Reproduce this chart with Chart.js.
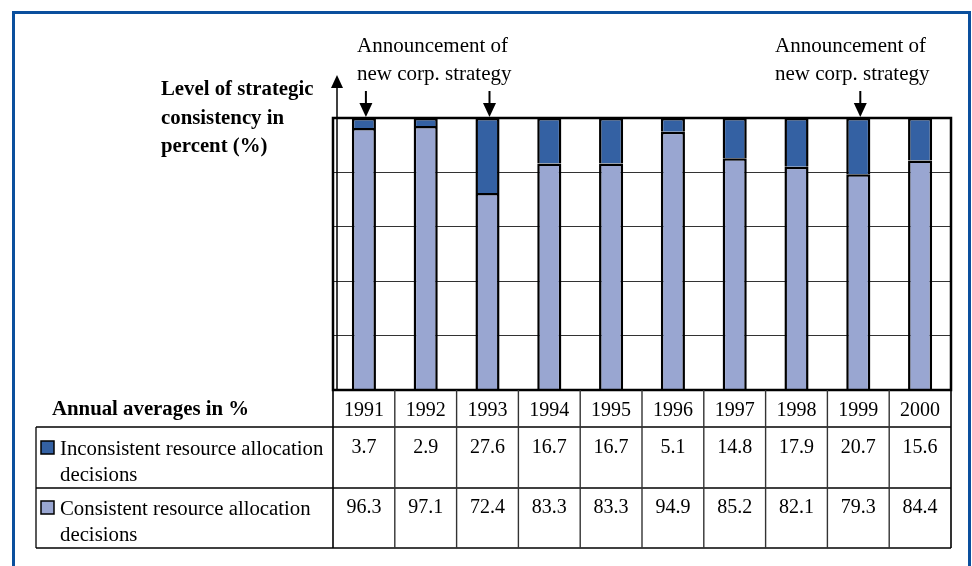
<!DOCTYPE html>
<html lang="en">
<head>
  <meta charset="UTF-8">
  <title>Strategic consistency 1991-2000</title>
  <script src="https://cdn.jsdelivr.net/npm/chart.js"></script>
  <style>
    body {
      margin: 0;
      background: #ffffff;
    }
    canvas {
      display: block;
    }
  </style>
</head>
<body>
  <canvas id="myChart" width="972" height="566"></canvas>

  <script>
    // Data
    const years = ['1991', '1992', '1993', '1994', '1995', '1996', '1997', '1998', '1999', '2000'];
    const inconsistent = [3.7, 2.9, 27.6, 16.7, 16.7, 5.1, 14.8, 17.9, 20.7, 15.6];
    const consistent = [96.3, 97.1, 72.4, 83.3, 83.3, 94.9, 85.2, 82.1, 79.3, 84.4];
    const inconsistentLabel = ['Inconsistent resource allocation', 'decisions'];
    const consistentLabel = ['Consistent resource allocation', 'decisions'];
    const yTitle = ['Level of strategic', 'consistency in', 'percent (%)'];
    const tableTitle = 'Annual averages in %';
    const announcement = ['Announcement of', 'new corp. strategy'];
    const announcementYears = ['1991', '1993', '1999'];

    const darkBlue = '#3461a3';
    const lightBlue = '#99a6d1';
    const serif = "'Liberation Serif', 'Times New Roman', serif";

    function drawText(ctx, str, x, y, font, align) {
      ctx.font = font;
      ctx.textAlign = align || 'left';
      ctx.textBaseline = 'alphabetic';
      ctx.fillStyle = '#000';
      ctx.fillText(str, x, y);
    }

    function line(ctx, x1, y1, x2, y2, color, width) {
      ctx.beginPath();
      ctx.strokeStyle = color;
      ctx.lineWidth = width;
      ctx.moveTo(x1, y1);
      ctx.lineTo(x2, y2);
      ctx.stroke();
    }

    function arrowDown(ctx, x, y0, y1) {
      line(ctx, x, y0, x, y1 - 10, '#000', 2);
      ctx.beginPath();
      ctx.fillStyle = '#000';
      ctx.moveTo(x - 6.5, y1 - 14);
      ctx.lineTo(x + 6.5, y1 - 14);
      ctx.lineTo(x, y1);
      ctx.closePath();
      ctx.fill();
    }

    // Frame, axis arrow, annotations and the data table under the plot
    const extras = {
      id: 'extras',
      afterDraw(chart) {
        const ctx = chart.ctx;
        const ca = chart.chartArea;
        const xs = chart.scales.x;
        const colW = (ca.right - ca.left) / years.length;
        ctx.save();

        // blue page frame
        ctx.strokeStyle = '#0a4f9d';
        ctx.lineWidth = 3;
        ctx.strokeRect(13.5, 12.5, 956, 600);

        // plot box
        ctx.strokeStyle = '#000';
        ctx.lineWidth = 2.5;
        ctx.strokeRect(ca.left, ca.top, ca.right - ca.left, ca.bottom - ca.top);

        // y axis with arrow
        const ax = ca.left + 4;
        line(ctx, ax, ca.bottom, ax, 86, '#000', 1.5);
        ctx.beginPath();
        ctx.fillStyle = '#000';
        ctx.moveTo(ax - 6, 88);
        ctx.lineTo(ax + 6, 88);
        ctx.lineTo(ax, 75);
        ctx.closePath();
        ctx.fill();

        // y title
        yTitle.forEach((t, i) => drawText(ctx, t, 161, 95 + i * 28.5, 'bold 20.8px ' + serif));

        // announcements
        const annFont = '21px ' + serif;
        drawText(ctx, announcement[0], 357, 52, annFont);
        drawText(ctx, announcement[1], 357, 80, annFont);
        drawText(ctx, announcement[0], 775, 52, annFont);
        drawText(ctx, announcement[1], 775, 80, annFont);
        announcementYears.forEach(y => {
          const x = xs.getPixelForValue(years.indexOf(y));
          arrowDown(ctx, x + 2, 91, ca.top - 1);
        });

        // table
        const rowYear = ca.bottom + 37;
        const row1 = rowYear + 61;
        const row2 = row1 + 60;
        const tLeft = 36;
        [rowYear, row1, row2].forEach(y => line(ctx, tLeft, y, ca.right, y, '#000', 1.3));
        line(ctx, tLeft, rowYear, tLeft, row2, '#000', 1.3);
        for (let i = 0; i <= years.length; i++) {
          const x = ca.left + i * colW;
          const edge = i === 0 || i === years.length;
          line(ctx, x, ca.bottom, x, row2, edge ? '#000' : '#333', edge ? 1.6 : 1.4);
        }

        drawText(ctx, tableTitle, 52, 415, 'bold 20.8px ' + serif);
        const cellFont = '20px ' + serif;
        years.forEach((y, i) => {
          const cx = xs.getPixelForValue(i);
          drawText(ctx, y, cx, 416, cellFont, 'center');
          drawText(ctx, inconsistent[i].toFixed(1), cx, 453, cellFont, 'center');
          drawText(ctx, consistent[i].toFixed(1), cx, 513, cellFont, 'center');
        });

        // row labels with legend boxes
        const labelFont = '20.8px ' + serif;
        const rows = [
          { lines: inconsistentLabel, color: darkBlue, base: 455 },
          { lines: consistentLabel, color: lightBlue, base: 515 }
        ];
        rows.forEach(r => {
          ctx.fillStyle = r.color;
          ctx.fillRect(41, r.base - 14, 13, 13);
          ctx.strokeStyle = '#000';
          ctx.lineWidth = 1.5;
          ctx.strokeRect(41, r.base - 14, 13, 13);
          drawText(ctx, r.lines[0], 60, r.base, labelFont);
          drawText(ctx, r.lines[1], 60, r.base + 26, labelFont);
        });

        ctx.restore();
      }
    };

    const ctx = document.getElementById('myChart').getContext('2d');
    const myChart = new Chart(ctx, {
      type: 'bar',
      data: {
        labels: years,
        datasets: [{
          label: consistentLabel.join(' '),
          data: consistent,
          backgroundColor: lightBlue,
          borderColor: '#000',
          borderWidth: 2.5
        }, {
          label: inconsistentLabel.join(' '),
          data: inconsistent,
          backgroundColor: darkBlue,
          borderColor: '#000',
          borderWidth: 2.5
        }]
      },
      options: {
        responsive: false,
        animation: false,
        barPercentage: 0.39,
        categoryPercentage: 1,
        layout: {
          padding: { left: 333, top: 118, right: 21, bottom: 176 }
        },
        plugins: {
          legend: { display: false },
          tooltip: { enabled: false }
        },
        scales: {
          x: {
            stacked: true,
            display: false
          },
          y: {
            stacked: true,
            min: 0,
            max: 100,
            ticks: { display: false, stepSize: 20 },
            border: { display: false },
            grid: { color: '#333', lineWidth: 1, drawTicks: false }
          }
        }
      },
      plugins: [extras]
    });
  </script>
</body>
</html>
